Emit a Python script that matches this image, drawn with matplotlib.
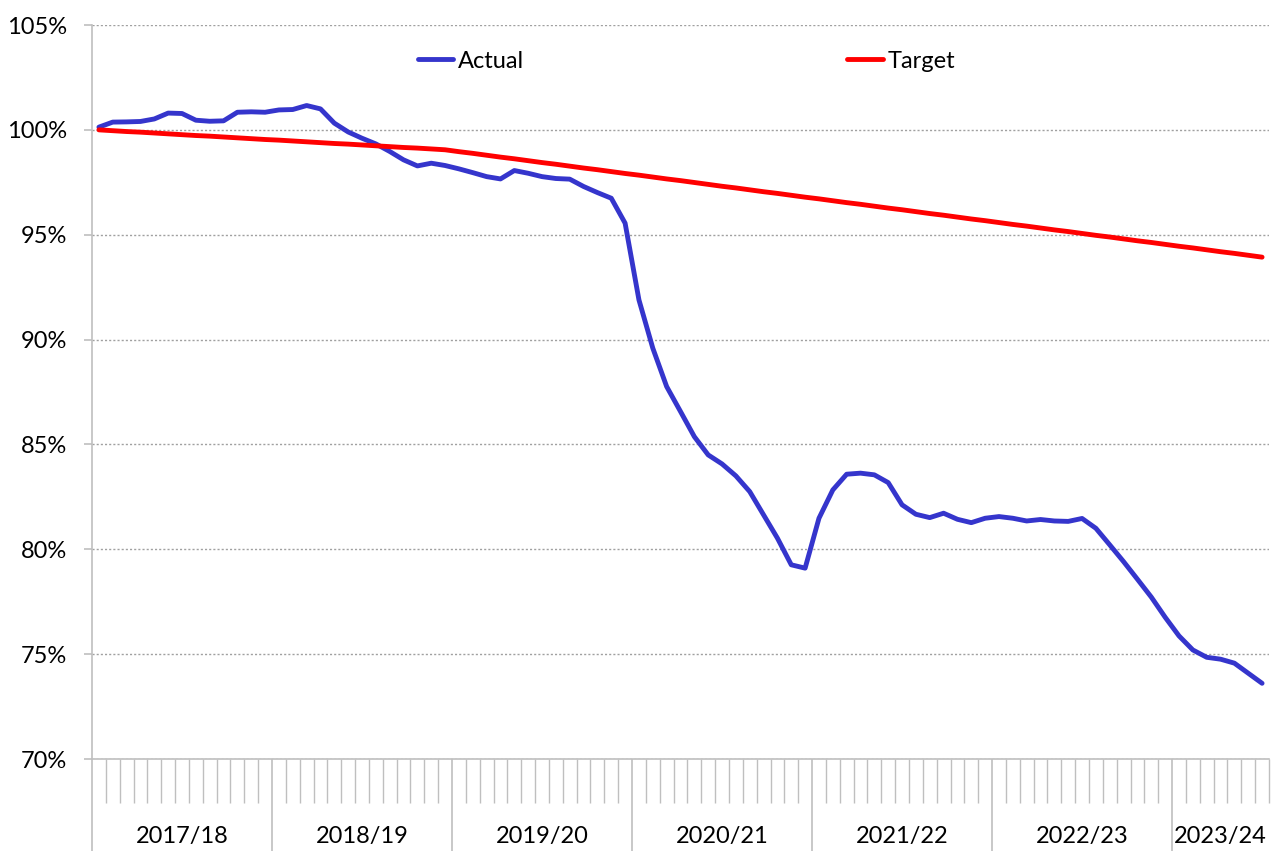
import matplotlib

matplotlib.use("Agg")
import matplotlib.pyplot as plt
import matplotlib.transforms as mtransforms
import numpy as np

plt.rcParams["font.family"] = ["Lato", "DejaVu Sans"]

# financial years, 13 four-week periods each (2023/24 partial)
years = ["2017/18", "2018/19", "2019/20", "2020/21", "2021/22", "2022/23", "2023/24"]
periods_per_year = [13, 13, 13, 13, 13, 13, 7]

actual = [
    100.13, 100.37, 100.38, 100.40, 100.52, 100.80, 100.78, 100.46, 100.41, 100.43,
    100.84, 100.86, 100.84, 100.95, 100.97, 101.16, 101.00, 100.32, 99.90, 99.60,
    99.33, 98.97, 98.57, 98.28, 98.41, 98.30, 98.14, 97.96, 97.77, 97.66,
    98.06, 97.93, 97.77, 97.68, 97.65, 97.30, 97.01, 96.74, 95.55, 91.89,
    89.59, 87.76, 86.57, 85.37, 84.50, 84.07, 83.50, 82.75, 81.64, 80.53,
    79.26, 79.10, 81.48, 82.83, 83.58, 83.63, 83.55, 83.18, 82.12, 81.67,
    81.51, 81.72, 81.43, 81.27, 81.48, 81.56, 81.48, 81.35, 81.42, 81.35,
    81.33, 81.47, 81.00, 80.21, 79.41, 78.57, 77.72, 76.76, 75.87, 75.20,
    74.85, 74.76, 74.57, 74.09, 73.61,
]

target = [
    100.00, 99.96, 99.92, 99.89, 99.85, 99.81, 99.77, 99.73, 99.70, 99.66,
    99.62, 99.58, 99.54, 99.51, 99.47, 99.43, 99.39, 99.35, 99.32, 99.28,
    99.24, 99.20, 99.16, 99.13, 99.09, 99.05, 98.96, 98.88, 98.79, 98.70,
    98.62, 98.53, 98.44, 98.36, 98.27, 98.18, 98.10, 98.01, 97.92, 97.84,
    97.75, 97.66, 97.58, 97.49, 97.40, 97.31, 97.23, 97.14, 97.05, 96.97,
    96.88, 96.79, 96.71, 96.62, 96.53, 96.45, 96.36, 96.27, 96.19, 96.10,
    96.01, 95.93, 95.84, 95.75, 95.67, 95.58, 95.49, 95.41, 95.32, 95.23,
    95.15, 95.06, 94.97, 94.89, 94.80, 94.71, 94.63, 94.54, 94.45, 94.37,
    94.28, 94.19, 94.11, 94.02, 93.93,
]

y_ticks = [70, 75, 80, 85, 90, 95, 100, 105]

GREY = "#BFBFBF"
FS = 17

fig = plt.figure(figsize=(12.72, 8.51), dpi=100)
ax = fig.add_axes([92 / 1272, 1 - 759 / 851, 1177 / 1272, 734 / 851])

n = len(actual)
x = np.arange(n)
ax.plot(x, actual, color="#3535CC", lw=3.5, label="Actual", zorder=3,
        solid_joinstyle="round", solid_capstyle="round")
ax.plot(x, target, color="#FF0000", lw=3.5, label="Target", zorder=3,
        solid_capstyle="round")

ax.set_xlim(-0.5, n - 0.5)
ax.set_ylim(y_ticks[0], y_ticks[-1])
ax.set_yticks(y_ticks)
ax.yaxis.set_major_formatter(lambda v, p: f"{v:.0f}%")
ax.grid(axis="y", ls=(0, (1.5, 1.5)), color="#A0A0A0", lw=1)
ax.set_axisbelow(True)

for s in ("top", "right"):
    ax.spines[s].set_visible(False)
for s in ("left", "bottom"):
    ax.spines[s].set_color(GREY)
    ax.spines[s].set_linewidth(1.2)

# period boundaries as ticks; year boundaries longer
bounds = np.cumsum([0] + periods_per_year) - 0.5
ax.set_xticks(bounds[:-1])
ax.set_xticks(np.arange(n + 1) - 0.5, minor=True)
ax.tick_params(axis="x", which="major", length=66, width=1.2, color=GREY, labelbottom=False)
ax.tick_params(axis="x", which="minor", length=31.5, width=1, color=GREY, labelbottom=False)
ax.tick_params(axis="y", length=6, width=1.2, color=GREY, pad=12, labelsize=FS)

trans = mtransforms.blended_transform_factory(ax.transData, ax.transAxes)
for i, yr in enumerate(years):
    xc = (bounds[i] + bounds[i + 1]) / 2
    ax.text(xc, -0.105, yr, transform=trans, ha="center", va="center", fontsize=FS)

ax.legend(loc="upper center", bbox_to_anchor=(0.505, 0.994), ncol=2, frameon=False,
          fontsize=FS, handlelength=1.5, handletextpad=0.2, columnspacing=13.7)

fig.savefig("out.png", dpi=100)
